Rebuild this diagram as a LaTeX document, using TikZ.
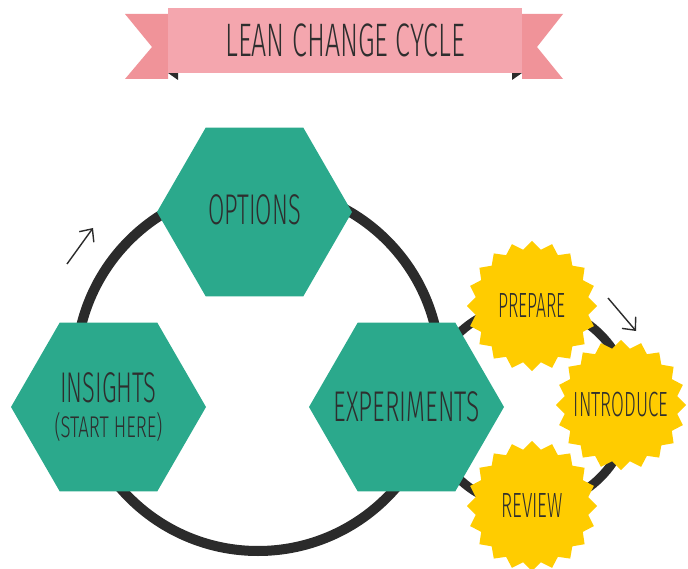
\documentclass[tikz,border=0pt]{standalone}
\usepackage{fontspec}
\usepackage{graphicx}
\usetikzlibrary{shapes.geometric,arrows.meta}
\newfontfamily\handfont{Fira Sans Light}
\newcommand{\hx}[3][0.55]{\makebox[0pt]{\scalebox{#1}[1]{\fontsize{#2}{#2}\selectfont\handfont #3}}}
\definecolor{hexteal}{HTML}{2BA98C}
\definecolor{staryellow}{HTML}{FFCC00}
\definecolor{ringdark}{HTML}{2B2B2B}
\definecolor{inkdark}{HTML}{2E2E2E}
\definecolor{bannerpink}{HTML}{F4A6AE}
\definecolor{tailpink}{HTML}{F09399}
\tikzset{
  hexa/.style={regular polygon, regular polygon sides=6, minimum size=195pt,
    inner sep=0pt, fill=hexteal, text=inkdark, align=center},
  burst/.style={star, star points=20, star point ratio=1.14, minimum size=130pt,
    inner sep=0pt, fill=staryellow, text=inkdark},
  ring/.style={draw=ringdark, line width=10pt},
  smallring/.style={draw=ringdark, line width=9pt},
  flowarrow/.style={draw=ringdark, line width=1.4pt,
    -{Straight Barb[length=10pt,width=18pt,line width=1.4pt]}},
}
\begin{document}
\begin{tikzpicture}[x=1pt,y=-1pt]
\useasboundingbox (0,0) rectangle (688,569);
% rings
\coordinate (bigc) at (258,369);
\coordinate (smallc) at (529,406);
\draw[ring] (bigc) circle (182);
\draw[smallring] (smallc) circle (101);
% hexagons
\node[hexa] (options) at (254.5,212) {\raisebox{4pt}{\hx{43}{OPTIONS}}};
\node[hexa] (insights) at (108.5,407) {\hx{43}{INSIGHTS}\\[8pt]\hx[0.62]{30}{(START HERE)}};
\node[hexa] (experiments) at (406.5,407) {\hx[0.57]{43}{EXPERIMENTS}};
% stars
\node[burst] (prepare) at (532,306) {\hx[0.5]{35}{PREPARE}};
\node[burst] (introduce) at (621,405) {\hx[0.53]{35}{INTRODUCE}};
\node[burst] (review) at (532,506) {\hx[0.54]{35}{REVIEW}};
% small arrows
\coordinate (a1s) at (67,264);
\coordinate (a1e) at (93,228);
\draw[flowarrow] (a1s) -- (a1e);
\coordinate (a2s) at (608,298);
\coordinate (a2e) at (636,331);
\draw[flowarrow] (a2s) -- (a2e);
% banner
\fill[tailpink] (125,14) -- (168,14) -- (168,79) -- (125,79) -- (152,47) -- cycle;
\fill[tailpink] (563,14) -- (522,14) -- (522,79) -- (563,79) -- (537,47) -- cycle;
\fill[ringdark] (168,73) -- (178,73) -- (178,80) -- cycle;
\fill[ringdark] (522,73) -- (512,73) -- (512,80) -- cycle;
\node[fill=bannerpink, minimum width=354pt, minimum height=65pt, inner sep=0pt,
  text=inkdark] (title) at (345,40.5) {\hx[0.57]{47}{LEAN CHANGE CYCLE}};
\end{tikzpicture}
\end{document}
